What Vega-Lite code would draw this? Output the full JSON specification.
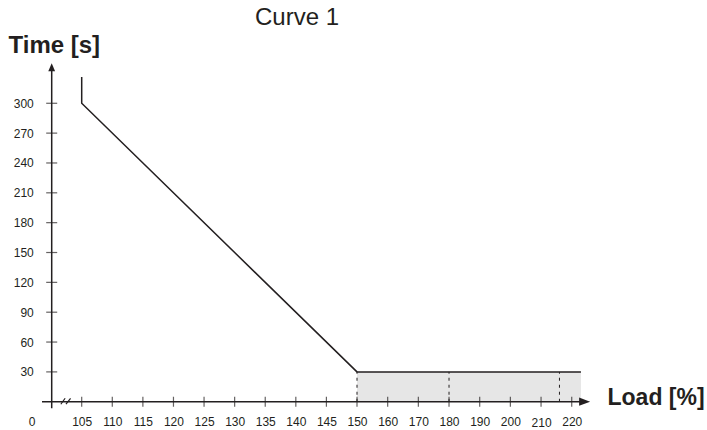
{
  "$schema": "https://vega.github.io/schema/vega-lite/v6.json",
  "autosize": {"type": "none"},
  "padding": {"left": 42, "top": 60, "right": 104, "bottom": 20},
  "width": 561,
  "height": 350,
  "background": "white",
  "title": {
    "text": "Curve 1",
    "font": "Liberation Sans",
    "fontSize": 24,
    "fontWeight": "normal",
    "color": "#231f20",
    "anchor": "start",
    "frame": "group",
    "dx": 213,
    "dy": 1
  },
  "config": {
    "view": {"stroke": null},
    "axis": {"labelFont": "Liberation Sans", "labelColor": "#231f20", "titleFont": "Liberation Sans", "titleColor": "#231f20"}
  },
  "datasets": {
    "curve": [
      {"load": 105, "time": 326.4},
      {"load": 105, "time": 300},
      {"load": 150, "time": 30},
      {"load": 223, "time": 30}
    ],
    "shade": [{"load": 150, "load2": 223, "time": 0, "time2": 30}],
    "dashes": [
      {"load": 150, "time": 0, "time2": 30},
      {"load": 180, "time": 0, "time2": 30},
      {"load": 216, "time": 0, "time2": 30}
    ],
    "xticks": [
      {"load": 105, "time": 0}, {"load": 110, "time": 0}, {"load": 115, "time": 0},
      {"load": 120, "time": 0}, {"load": 125, "time": 0}, {"load": 130, "time": 0},
      {"load": 135, "time": 0}, {"load": 140, "time": 0}, {"load": 145, "time": 0},
      {"load": 150, "time": 0}, {"load": 160, "time": 0}, {"load": 170, "time": 0},
      {"load": 180, "time": 0}, {"load": 190, "time": 0}, {"load": 200, "time": 0},
      {"load": 210, "time": 0}, {"load": 220, "time": 0}
    ],
    "yticks": [
      {"load": 0, "time": 30}, {"load": 0, "time": 60}, {"load": 0, "time": 90},
      {"load": 0, "time": 120}, {"load": 0, "time": 150}, {"load": 0, "time": 180},
      {"load": 0, "time": 210}, {"load": 0, "time": 240}, {"load": 0, "time": 270},
      {"load": 0, "time": 300}
    ],
    "axislines": [
      {"load": -34, "load2": 224, "time": 0, "time2": 0},
      {"load": 0, "load2": 0, "time": -6.6, "time2": 333}
    ],
    "breaks": [
      {"load": 32, "load2": 47, "time": -2.5, "time2": 3.5},
      {"load": 50, "load2": 66, "time": -2.5, "time2": 3.5}
    ],
    "xarrow": [{"load": 224.2, "time": 0}],
    "yarrow": [{"load": 0, "time": 336.2}]
  },
  "encoding": {
    "x": {
      "field": "load",
      "type": "quantitative",
      "scale": {"domain": [-34, 0, 105, 150, 230], "range": [0, 9.7, 39.7, 315, 560.4], "nice": false, "zero": false},
      "axis": {
        "values": [0, 105, 110, 115, 120, 125, 130, 135, 140, 145, 150, 160, 170, 180, 190, 200, 210, 220],
        "domain": false,
        "ticks": false,
        "tickSize": 0,
        "grid": false,
        "labelFontSize": 12,
        "labelPadding": {"condition": {"test": "datum.value === 210", "value": 7}, "value": 6},
        "labelOffset": {"condition": {"test": "datum.value === 0", "value": -20}, "value": 0},
        "labelFlush": false,
        "labelOverlap": false,
        "title": "Load [%]",
        "titleFontSize": 23,
        "titleFontWeight": "bold",
        "titleAlign": "left",
        "titleBaseline": "alphabetic",
        "titleAnchor": null,
        "titleX": 565,
        "titleY": -6
      }
    },
    "y": {
      "field": "time",
      "type": "quantitative",
      "scale": {"domain": [-8.3, 343.5], "nice": false, "zero": false},
      "axis": {
        "values": [30, 60, 90, 120, 150, 180, 210, 240, 270, 300],
        "domain": false,
        "ticks": false,
        "tickSize": 0,
        "grid": false,
        "labelFontSize": 12,
        "labelPadding": 8.7,
        "labelOverlap": false,
        "title": "Time [s]",
        "titleFontSize": 24,
        "titleFontWeight": "bold",
        "titleAngle": 0,
        "titleAlign": "left",
        "titleBaseline": "alphabetic",
        "titleAnchor": null,
        "titleX": -34,
        "titleY": -8
      }
    }
  },
  "layer": [
    {
      "data": {"name": "shade"},
      "mark": {"type": "rect", "fill": "#e6e6e6", "stroke": null},
      "encoding": {"x2": {"field": "load2"}, "y2": {"field": "time2"}}
    },
    {
      "data": {"name": "dashes"},
      "mark": {"type": "rule", "color": "#231f20", "strokeWidth": 1, "strokeDash": [3, 4]},
      "encoding": {"y2": {"field": "time2"}}
    },
    {
      "data": {"name": "axislines"},
      "mark": {"type": "rule", "color": "#231f20", "strokeWidth": 1.5},
      "encoding": {"x2": {"field": "load2"}, "y2": {"field": "time2"}}
    },
    {
      "data": {"name": "breaks"},
      "mark": {"type": "rule", "color": "#231f20", "strokeWidth": 1.2},
      "encoding": {"x2": {"field": "load2"}, "y2": {"field": "time2"}}
    },
    {
      "data": {"name": "xticks"},
      "mark": {"type": "tick", "orient": "vertical", "color": "#231f20", "size": 10, "thickness": 1.2},
      "encoding": {}
    },
    {
      "data": {"name": "yticks"},
      "mark": {"type": "tick", "orient": "horizontal", "color": "#231f20", "size": 11, "thickness": 1.2},
      "encoding": {}
    },
    {
      "data": {"name": "curve"},
      "mark": {"type": "line", "color": "#231f20", "strokeWidth": 1.5, "strokeJoin": "miter"},
      "encoding": {"order": {"value": null}}
    },
    {
      "data": {"name": "xarrow"},
      "mark": {"type": "point", "shape": "M-1,-0.75L1,0L-1,0.75Z", "size": 121, "filled": true, "color": "#231f20", "opacity": 1},
      "encoding": {}
    },
    {
      "data": {"name": "yarrow"},
      "mark": {"type": "point", "shape": "M-0.85,1L0.85,1L0,-1Z", "size": 64, "filled": true, "color": "#231f20", "opacity": 1},
      "encoding": {}
    }
  ]
}
